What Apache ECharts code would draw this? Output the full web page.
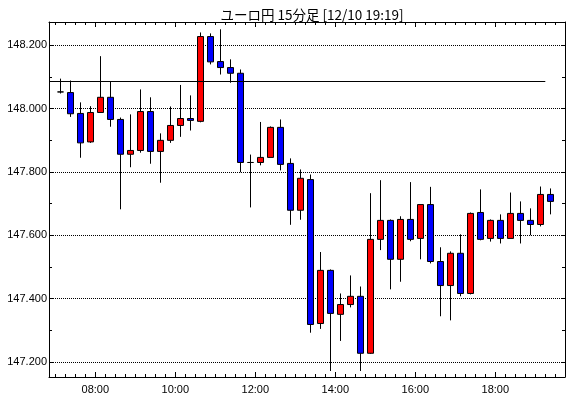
<!DOCTYPE html>
<html lang="ja">
<head>
<meta charset="UTF-8">
<title>ユーロ円 15分足</title>
<style type="text/css">
	html, body { margin: 0; padding: 0; background: #fff; }
	#chart { width: 570px; height: 398px; }
</style>
</head>
<body>
<div id="chart"></div>
<script src="https://cdn.jsdelivr.net/npm/echarts@6/dist/echarts.min.js"></script>
<script type="text/javascript">
// 15分足 07:00 - 19:15
var startTime = '07:00';
var opens  = [148.053, 148.051, 147.985, 147.895, 147.988, 148.036, 147.966, 147.856, 147.868, 147.991,
              147.865, 147.900, 147.947, 147.969, 147.960, 148.228, 148.149, 148.130, 148.112, 147.830,
              147.830, 147.846, 147.941, 147.827, 147.679, 147.776, 147.321, 147.489, 147.350, 147.381,
              147.407, 147.227, 147.587, 147.647, 147.524, 147.650, 147.590, 147.697, 147.517, 147.441,
              147.543, 147.416, 147.672, 147.590, 147.647, 147.590, 147.669, 147.647, 147.634, 147.729];
var closes = [148.053, 147.984, 147.892, 147.988, 148.036, 147.966, 147.856, 147.868, 147.991, 147.865,
              147.900, 147.947, 147.969, 147.963, 148.228, 148.148, 148.130, 148.112, 147.830, 147.830,
              147.846, 147.941, 147.824, 147.679, 147.780, 147.318, 147.489, 147.353, 147.381, 147.407,
              147.227, 147.587, 147.647, 147.524, 147.650, 147.587, 147.697, 147.517, 147.441, 147.543,
              147.416, 147.669, 147.587, 147.647, 147.590, 147.669, 147.647, 147.634, 147.729, 147.707];
var lows   = [148.048, 147.974, 147.845, 147.892, 147.988, 147.943, 147.682, 147.815, 147.861, 147.826,
              147.766, 147.892, 147.911, 147.931, 147.957, 148.140, 148.108, 148.082, 147.799, 147.688,
              147.821, 147.846, 147.805, 147.633, 147.649, 147.292, 147.304, 147.171, 147.266, 147.372,
              147.171, 147.225, 147.553, 147.429, 147.453, 147.581, 147.524, 147.511, 147.344, 147.331,
              147.407, 147.413, 147.584, 147.580, 147.574, 147.590, 147.574, 147.600, 147.628, 147.666];
var highs  = [148.095, 148.089, 148.020, 148.008, 148.166, 148.085, 147.972, 147.982, 148.061, 148.036,
              147.922, 148.007, 148.075, 148.042, 148.241, 148.238, 148.251, 148.156, 148.124, 147.855,
              147.958, 147.944, 147.966, 147.843, 147.808, 147.792, 147.547, 147.492, 147.416, 147.473,
              147.438, 147.733, 147.774, 147.650, 147.660, 147.768, 147.697, 147.753, 147.562, 147.549,
              147.603, 147.672, 147.745, 147.650, 147.666, 147.735, 147.707, 147.685, 147.754, 147.748];
var refLine = 148.086;
var refLineEnd = '19:15';
var yTicks = [147.2, 147.4, 147.6, 147.8, 148.0, 148.2];
var xLabels = ['08:00', '10:00', '12:00', '14:00', '16:00', '18:00'];

// 時刻 -> 08:00からの15分単位
function slot(t){
	var p = t.split(':');
	return ((+p[0]) * 60 + (+p[1]) - 480) / 15;
}
function label(v){
	var m = 480 + v * 15;
	var h = Math.floor(m / 60), mm = m % 60;
	return (h < 10 ? '0' : '') + h + ':' + (mm < 10 ? '0' : '') + mm;
}

var data = [];
var s0 = slot(startTime);
opens.forEach(function (o, i){
	data.push([s0 + i + 0.5, o, closes[i], lows[i], highs[i]]);
});

var xMin = -4.63, xMax = 46.97;
var yMin = 147.152, yMax = 148.274;
var black = '#000';

function xAxisBase(pos, showLabel){
	return {
		type: 'value', position: pos, min: xMin, max: xMax,
		minInterval: 8, maxInterval: 8,
		axisLine: { onZero: false, lineStyle: { color: black, width: 1 } },
		axisTick: { inside: true, length: 5, lineStyle: { color: black } },
		minorTick: { show: true, splitNumber: 8, length: 3, lineStyle: { color: black } },
		splitLine: { show: false },
		axisLabel: {
			show: showLabel, margin: 7, color: black, fontSize: 11,
			fontFamily: 'Liberation Sans',
			formatter: function (v){
				var l = label(v);
				return xLabels.indexOf(l) >= 0 && Math.abs(v - Math.round(v)) < 1e-6 ? l : '';
			}
		}
	};
}
function yAxisBase(pos, showLabel){
	return {
		type: 'value', position: pos, min: yMin, max: yMax, scale: true,
		minInterval: 0.2, maxInterval: 0.2,
		axisLine: { show: true, onZero: false, lineStyle: { color: black, width: 1 } },
		axisTick: { show: true, inside: true, length: 4, lineStyle: { color: black } },
		minorTick: { show: true, splitNumber: 2, length: 3, lineStyle: { color: black } },
		splitLine: { show: showLabel, lineStyle: { color: black, type: [1, 1], width: 1 } },
		axisLabel: {
			show: showLabel, margin: 2, color: black, fontSize: 11,
			fontFamily: 'Liberation Sans',
			formatter: function (v){
				for (var k = 0; k < yTicks.length; k++){
					if (Math.abs(v - yTicks[k]) < 1e-6) return yTicks[k].toFixed(3);
				}
				return '';
			}
		}
	};
}

var myChart = echarts.init(document.getElementById('chart'), null, { renderer: 'canvas' });
var option = {
	animation: false,
	backgroundColor: '#fff',
	title: {
		text: 'ユーロ円 15分足 [12/10 19:19]',
		left: 307, top: 3, textAlign: 'center',
		textStyle: { fontSize: 13.5, fontWeight: 'normal', color: black, fontFamily: 'Noto Sans CJK JP' }
	},
	grid: { left: 49, top: 22, right: 5, bottom: 21, containLabel: false },
	xAxis: [xAxisBase('bottom', true), xAxisBase('top', false)],
	yAxis: [yAxisBase('left', true), yAxisBase('right', false)],
	series: [{
		type: 'candlestick',
		xAxisIndex: 0, yAxisIndex: 0,
		data: data,
		encode: { x: 0, y: [1, 2, 3, 4] },
		barWidth: 6,
		itemStyle: {
			color: '#ff0000', color0: '#0000ff',
			borderColor: black, borderColor0: black, borderColorDoji: black,
			borderWidth: 1
		},
		markLine: {
			silent: true, symbol: 'none',
			label: { show: false },
			lineStyle: { color: black, type: 'solid', width: 1 },
			data: [[{ coord: [xMin, refLine] }, { coord: [slot(refLineEnd), refLine] }]]
		}
	}]
};
myChart.setOption(option);
</script>
</body>
</html>
